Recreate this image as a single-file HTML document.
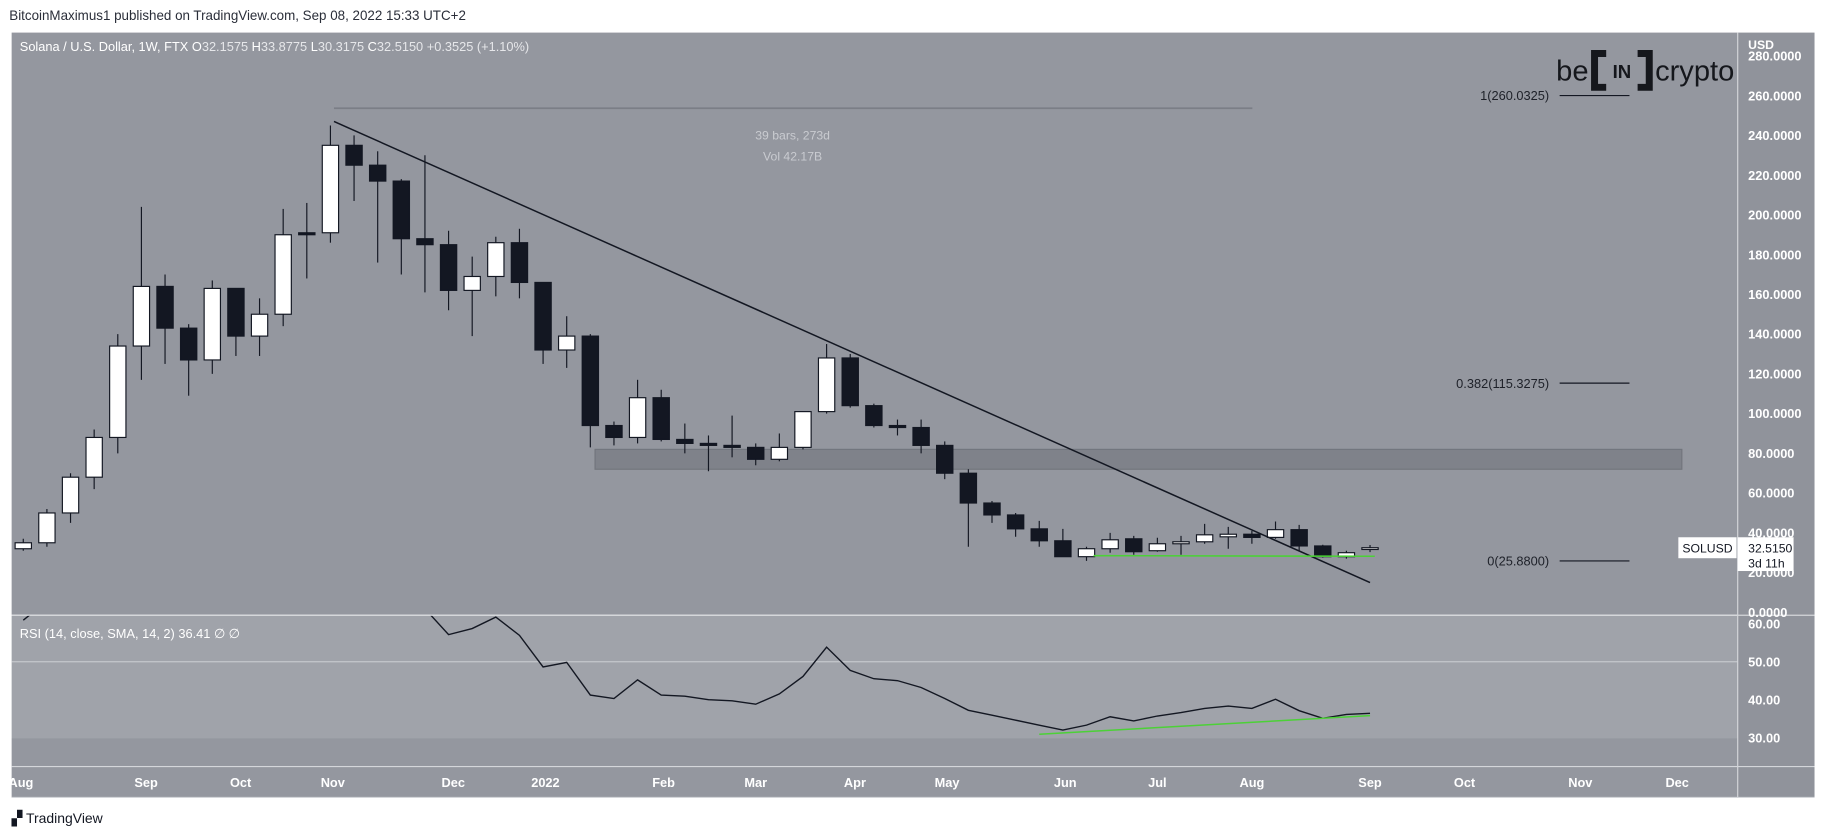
<!DOCTYPE html>
<html><head><meta charset="utf-8"><style>
html,body{margin:0;padding:0;background:#fff;overflow:hidden}
svg{display:block;font-family:"Liberation Sans",sans-serif}
</style></head><body>
<svg id="c" width="1825" height="837" viewBox="0 0 1568 719" preserveAspectRatio="none" xmlns="http://www.w3.org/2000/svg">
<defs>
<clipPath id="pclip"><rect x="10" y="28" width="1483" height="500"/></clipPath>
<clipPath id="rclip"><rect x="10" y="529" width="1483" height="129"/></clipPath>
</defs>
<rect x="0" y="0" width="1568" height="719" fill="#ffffff"/>
<text x="8" y="17" font-size="11.5" fill="#2a2e39">BitcoinMaximus1 published on TradingView.com, Sep 08, 2022 15:33 UTC+2</text>
<rect x="10" y="28" width="1483" height="500" fill="#94979f"/>
<rect x="10" y="529" width="1483" height="105" fill="#a0a3aa"/>
<rect x="10" y="634" width="1483" height="24" fill="#94979f"/>
<rect x="10" y="658" width="1483" height="27" fill="#94979f"/>
<rect x="1493" y="28" width="66" height="657" fill="#90939b"/>
<line x1="10" y1="528.5" x2="1559" y2="528.5" stroke="#d4d6da" stroke-width="1"/>
<line x1="10" y1="568.5" x2="1493" y2="568.5" stroke="#d4d6da" stroke-width="0.8"/>
<line x1="10" y1="658.5" x2="1559" y2="658.5" stroke="#d4d6da" stroke-width="1"/>
<line x1="10" y1="685" x2="1559" y2="685" stroke="#d4d6da" stroke-width="1"/>
<line x1="1493" y1="28" x2="1493" y2="685" stroke="#d4d6da" stroke-width="1"/>
<g id="pg" clip-path="url(#pclip)"></g>
<g id="rg" clip-path="url(#rclip)"></g>
<g id="ax"></g>
<text x="17" y="44" font-size="11" fill="#ffffff">Solana / U.S. Dollar, 1W, FTX  O<tspan fill="#e6e7ea">32.1575</tspan>  H<tspan fill="#e6e7ea">33.8775</tspan>  L<tspan fill="#e6e7ea">30.3175</tspan>  C<tspan fill="#e6e7ea">32.5150</tspan>  <tspan fill="#e6e7ea">+0.3525 (+1.10%)</tspan></text>
<text x="17" y="548" font-size="11" fill="#ffffff">RSI (14, close, SMA, 14, 2)  36.41  ∅  ∅</text>
<g>
<text x="1337" y="69" font-size="25" fill="#15171c">be</text>
<path d="M1380,46 H1370 V75 H1380" fill="none" stroke="#15171c" stroke-width="6"/>
<path d="M1407,46 H1417 V75 H1407" fill="none" stroke="#15171c" stroke-width="6"/>
<text x="1393.5" y="67" font-size="16" font-weight="bold" fill="#15171c" text-anchor="middle">IN</text>
<text x="1422" y="69" font-size="25" fill="#15171c">crypto</text>
</g>
<text x="1502" y="42" font-size="10.5" font-weight="bold" fill="#ffffff">USD</text>
<text x="10" y="707" font-size="12" fill="#131722">▞ TradingView</text>
</svg>
<script>
// Weekly SOLUSD candles (open, high, low, close)
const opens  = [32,35,50,68,88,134,164,143,127,163,139,150,191,191,235,225,217,188,185,162,169,186,166,132,139,94,88,108,87,85,84,83,77,83,101,128,104,94,93,84,70,55,49,42,36,28,32,37,31,34.5,35.5,38,39.3,37.7,41.6,33.4,28,32.2];
const highs  = [37,52,70,92,140,204,170,145,167,163,158,203,206,245,240,232,218,230,192,179,189,193,166,149,140,96,117,112,95,89,99,85,90,101,135,130,105,97,97,86,72,56,50,46,42,33,40,38.5,37.5,38.5,44.5,43,41,45.7,44,34,31,33.9];
const lows   = [31,33,45,62,80,117,125,109,120,129,129,144,168,186,207,176,170,161,152,139,159,158,125,123,83,84,85,86,80,71,78,74,76,82,100,103,93,89,80,67,33,45,38,33,28,25.9,30,29,30.5,29,34.5,32,34.5,37,31,27.5,27,30.3];
const closes = [35,50,68,88,134,164,143,127,163,139,150,190,190,235,225,217,188,185,162,169,186,166,132,139,94,88,108,87,85,84,83,77,83,101,128,104,94,93,84,70,55,49,42,36,28,32,36.5,30.5,34.5,35.5,39,39.3,37.7,41.6,33.4,28,30,32.5];
const rsiVals = [61,66,70,74,78,80,78,74,76,73,74,78,77,82,78,75,70,64,57.2,58.8,61.8,57,48.7,49.9,41.3,40.4,45.3,41.3,41,40.1,39.8,38.9,41.6,46.2,53.9,47.8,45.6,45.1,43.3,40.4,37.3,36,34.7,33.4,32.1,33.4,35.6,34.5,35.8,36.7,37.8,38.4,37.8,40.2,37.2,35.2,36.2,36.5];
const priceTicks = [280,260,240,220,200,180,160,140,120,100,80,60,40,20,0];
const rsiTicks = [60,50,40,30];
const monthLabels = ["Aug","Sep","Oct","Nov","Dec","2022","Feb","Mar","Apr","May","Jun","Jul","Aug","Sep","Oct","Nov","Dec"];
const monthPos = [-0.1,5.2,9.2,13.1,18.2,22.1,27.1,31.0,35.2,39.1,44.1,48.0,52.0,57.0,61.0,65.9,70.0];
const fibLevels = [260.0325,115.3275,25.88];
const fibNames = ["1","0.382","0"];
const trendStart = [13.15,247], trendEnd = [57,15];
const zoneLow = 72, zoneHigh = 82;
const supportPrice = [28.5,28.2];
const rsiSupport = [[43,31],[57,35.9]];

const NS="http://www.w3.org/2000/svg";
const xS = i => 20 + i*20.3;
const yP = p => 526 - p*1.7071;
const yR = v => 536 + (60-v)*3.267;
function mk(tag, attrs, parent){const e=document.createElementNS(NS,tag);for(const k in attrs)e.setAttribute(k,attrs[k]);parent.appendChild(e);return e;}
const pg=document.getElementById('pg'), rg=document.getElementById('rg'), ax=document.getElementById('ax');

let z=mk('rect',{x:xS(24.2),y:yP(zoneHigh),width:1445-xS(24.2),height:yP(zoneLow)-yP(zoneHigh),fill:'#7f828a',stroke:'#72757d','stroke-width':1},pg);


let ml=mk('line',{x1:xS(13.15),y1:93,x2:1076,y2:93,stroke:'#7b7e86','stroke-width':1.5},pg);


let t1=mk('text',{x:681,y:120,'font-size':10.5,fill:'#c9cbd0','text-anchor':'middle'},pg);t1.textContent='39 bars, 273d';


let t2=mk('text',{x:681,y:138,'font-size':10.5,fill:'#c9cbd0','text-anchor':'middle'},pg);t2.textContent='Vol 42.17B';



for(let i=0;i<opens.length;i++){
  const x=xS(i), o=opens[i], c=closes[i], up=c>=o;
  let w=mk('line',{x1:x,y1:yP(highs[i]),x2:x,y2:yP(lows[i]),stroke:'#131722','stroke-width':1},pg);
  
  
  const top=yP(Math.max(o,c)), h=Math.max(1.5,Math.abs(yP(o)-yP(c)));
  let b=mk('rect',{x:x-7,y:top,width:14,height:h,fill:up?'#ffffff':'#131722',stroke:'#131722','stroke-width':1},pg);
  
  
}
let tl=mk('line',{x1:xS(trendStart[0]),y1:yP(trendStart[1]),x2:xS(trendEnd[0]),y2:yP(trendEnd[1]),stroke:'#131722','stroke-width':1.3},pg);


let sl=mk('line',{x1:xS(45.3),y1:yP(supportPrice[0]),x2:xS(57.2),y2:yP(supportPrice[1]),stroke:'#4cd137','stroke-width':1.3},pg);


for(let k=0;k<fibLevels.length;k++){
  const y=yP(fibLevels[k]);
  let l=mk('line',{x1:1340,y1:y,x2:1400,y2:y,stroke:'#131722','stroke-width':1},ax);
  
  
  let t=mk('text',{x:1331,y:y+4,'font-size':11,fill:'#1e2129','text-anchor':'end'},ax);
  t.textContent=fibNames[k]+'('+fibLevels[k].toFixed(4)+')';
  
  
}
let d='';for(let i=0;i<rsiVals.length;i++){d+=(i?'L':'M')+xS(i)+','+yR(rsiVals[i]);}
let rl=mk('path',{d:d,fill:'none',stroke:'#131722','stroke-width':1.2},rg);


let rs=mk('line',{x1:xS(rsiSupport[0][0]),y1:yR(rsiSupport[0][1]),x2:xS(rsiSupport[1][0]),y2:yR(rsiSupport[1][1]),stroke:'#4cd137','stroke-width':1.3},rg);


for(const p of priceTicks){
  let t=mk('text',{x:1502,y:yP(p)+4,'font-size':11,'font-weight':'bold',fill:'#ffffff'},ax);
  t.textContent=p.toFixed(4);
  
  
}
for(const v of rsiTicks){
  let t=mk('text',{x:1502,y:yR(v)+4,'font-size':11,'font-weight':'bold',fill:'#ffffff'},ax);
  t.textContent=v.toFixed(2);
  
  
}
for(let k=0;k<monthLabels.length;k++){
  let t=mk('text',{x:xS(monthPos[k]),y:676,'font-size':11,'font-weight':'bold',fill:'#ffffff','text-anchor':'middle'},ax);
  t.textContent=monthLabels[k];
  
  
}
const lastY=yP(closes[closes.length-1]);
let sb=mk('rect',{x:1442,y:lastY-9,width:50,height:18,fill:'#ffffff'},ax);


let st=mk('text',{x:1467,y:lastY+4,'font-size':10.5,fill:'#131722','text-anchor':'middle'},ax);st.textContent='SOLUSD';


let pb=mk('rect',{x:1493,y:lastY-9,width:48,height:29,fill:'#ffffff'},ax);


let pt=mk('text',{x:1502,y:lastY+4,'font-size':10.5,fill:'#131722'},ax);pt.textContent='32.5150';


let ct=mk('text',{x:1502,y:lastY+17,'font-size':10.5,fill:'#131722'},ax);ct.textContent='3d 11h';


</script>
</body></html>
